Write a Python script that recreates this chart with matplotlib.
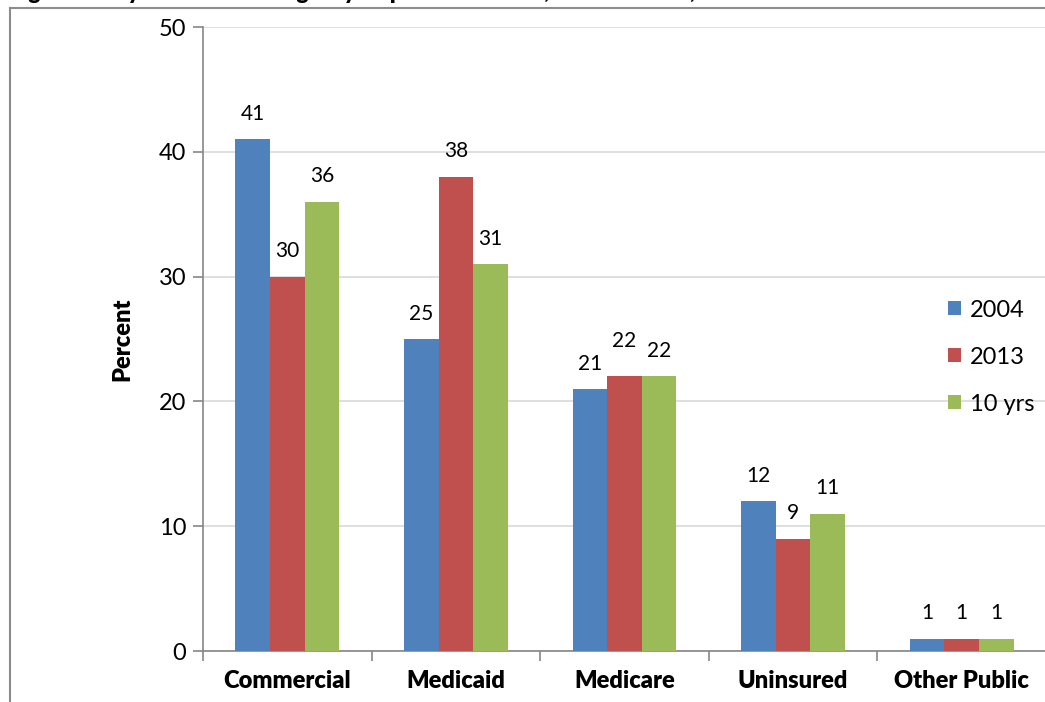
import numpy as np
import matplotlib
matplotlib.use('Agg')
import matplotlib.pyplot as plt
from matplotlib.lines import Line2D

plt.rcParams['font.family'] = ['Lato', 'DejaVu Sans']

categories = ['Commercial', 'Medicaid', 'Medicare', 'Uninsured', 'Other Public']
series = ['2004', '2013', '10 yrs']
v2004 = [41, 25, 21, 12, 1]
v2013 = [30, 38, 22, 9, 1]
v10yrs = [36, 31, 22, 11, 1]
title = 'Figure 1. Payer Mix for Emergency Department Visits, 2004 to 2013, and 10 Years'

colors = ['#4F81BD', '#C0504D', '#9BBB59']
values = [v2004, v2013, v10yrs]
# extra lift (points) for labels that were nudged in the original
lift = [[0, 0, 0, 0, 0], [0, 0, 7, 0, 0], [0, 0, 0, 0, 0]]

W, H = 1045, 702
fig = plt.figure(figsize=(W / 100, H / 100), dpi=100)
ax = fig.add_axes([203 / W, 1 - 651 / H, 843 / W, 624 / H])

x = np.arange(len(categories))
bw = 0.205
for i, (vals, c) in enumerate(zip(values, colors)):
    pos = x + (i - 1) * bw
    ax.bar(pos, vals, width=bw, color=c, label=series[i], zorder=3)
    for p, v, l in zip(pos, vals, lift[i]):
        ax.annotate(str(v), (p, v), xytext=(0, 11 + l), textcoords='offset points',
                    ha='center', va='bottom', fontsize=15)

ax.set_xlim(-0.5, len(categories) - 0.5)
ax.set_ylim(0, 50)
ax.set_yticks(range(0, 51, 10))
ax.yaxis.grid(True, color='#D9D9D9', linewidth=1.2, zorder=0)
ax.set_axisbelow(True)

ax.set_xticks(x)
ax.set_xticklabels(categories, fontsize=17, fontweight='heavy')
ax.set_xticks(np.arange(-0.5, len(categories)), minor=True)
ax.tick_params(axis='x', which='major', length=0, pad=14)
ax.tick_params(axis='x', which='minor', length=7, color='#868686', width=1.2)
ax.tick_params(axis='y', length=7, color='#868686', width=1.2, labelsize=17, pad=5)

for s in ['top', 'right']:
    ax.spines[s].set_visible(False)
for s in ['left', 'bottom']:
    ax.spines[s].set_color('#868686')
    ax.spines[s].set_linewidth(1.2)

ax.set_ylabel('Percent', fontsize=17, fontweight='heavy', labelpad=18)

ax.legend(loc='center left', bbox_to_anchor=(0.858, 0.471), frameon=False, fontsize=17,
          handlelength=0.55, handleheight=0.55, handletextpad=0.4, labelspacing=1.1)

# chart border and title, which sits mostly above the top edge as in the original
fig.add_artist(Line2D([9.5 / W, 9.5 / W], [0, 1 - 7.5 / H], color='#8C8C8C', lw=1.5))
fig.add_artist(Line2D([9.5 / W, 1], [1 - 7.5 / H, 1 - 7.5 / H], color='#8C8C8C', lw=1.5))
fig.text(10 / W, 1 + 1 / H, title, fontsize=16, fontweight='heavy', va='baseline', ha='left')

fig.savefig('out.png', dpi=100)
